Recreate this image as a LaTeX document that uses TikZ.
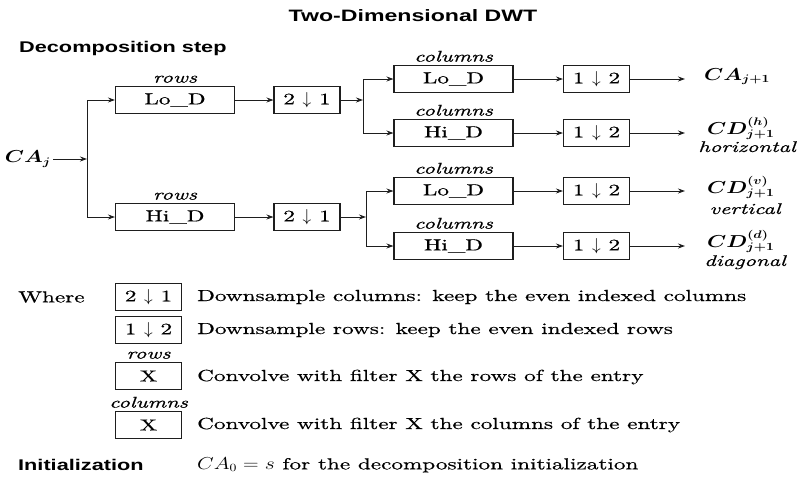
\documentclass[tikz,border=0pt]{standalone}
\usepackage{fontspec}
\setmainfont{lmroman10}[Extension=.otf, UprightFont=*-regular,
  ItalicFont=*-italic, BoldFont=*-bold, BoldItalicFont=*-bolditalic,
  FakeStretch=1.45, FakeBold=0.6]
\setsansfont{Liberation Sans}[FakeStretch=1.4]
\usepackage{graphicx}
\usepackage{tikz}
\usetikzlibrary{arrows.meta, positioning}
\definecolor{Ink}{HTML}{1E1E1E}
\newcommand{\wmath}[1]{\scalebox{1.25}[1]{$#1$}}

\begin{document}
\begin{tikzpicture}[x=1pt, y=-1pt, font=\fontsize{16}{19}\selectfont,
    fbox/.style={draw=Ink, line width=1.1pt, minimum width=119pt,
                 minimum height=27pt, inner sep=0pt},
    dsbox/.style={fbox, minimum width=66pt},
    lab/.style={font=\fontsize{15.5}{18}\selectfont\itshape, inner sep=0pt},
    txt/.style={anchor=west, inner sep=0pt},
    head/.style={font=\sffamily\bfseries\fontsize{15.5}{18}\selectfont},
    outlbl/.style={anchor=base west, inner sep=0pt,
                   font=\fontsize{16}{19}\selectfont\boldmath},
    word/.style={anchor=base, inner sep=0pt,
                 font=\fontsize{15.5}{18}\selectfont\itshape},
    arr/.style={draw=Ink, line width=0.9pt, -{Stealth[length=7pt, width=5pt]}},
    label distance=3pt]
  \useasboundingbox (0,0) rectangle (801,479);

  % Titles
  \node[font=\sffamily\bfseries\fontsize{16.5}{20}\selectfont] (title) at (413,16) {Two-Dimensional DWT};
  \node[head, txt] (dstep) at (19,48) {Decomposition step};

  % Input and row filters
  \node[anchor=east, inner sep=2pt, font=\fontsize{16}{19}\selectfont\boldmath]
        (caj) at (53,159) {\wmath{CA_j}};
  \coordinate (b1) at (87,159);
  \node[fbox, label={[lab]above:rows}] (lor) at (175,100) {Lo\_D};
  \node[fbox, label={[lab]above:rows}] (hir) at (175,217) {Hi\_D};
  \node[dsbox] (dr1) at (307,100) {2 $\downarrow$ 1};
  \node[dsbox] (dr2) at (307,217) {2 $\downarrow$ 1};

  % Column filters
  \coordinate (b2) at (363,100);
  \coordinate (b3) at (366,217);
  \node[fbox, label={[lab]above:columns}] (lc1) at (453.5,79) {Lo\_D};
  \node[fbox, label={[lab]above:columns}] (hc1) at (453.5,133) {Hi\_D};
  \node[fbox, label={[lab]above:columns}] (lc2) at (453.5,191) {Lo\_D};
  \node[fbox, label={[lab]above:columns}] (hc2) at (453.5,246) {Hi\_D};
  \node[dsbox] (dlc1) at (596.5,79) {1 $\downarrow$ 2};
  \node[dsbox] (dhc1) at (596.5,133) {1 $\downarrow$ 2};
  \node[dsbox] (dlc2) at (596.5,191) {1 $\downarrow$ 2};
  \node[dsbox] (dhc2) at (596.5,246) {1 $\downarrow$ 2};
  \coordinate (olc1) at (685,79);
  \coordinate (ohc1) at (685,133);
  \coordinate (olc2) at (685,191);
  \coordinate (ohc2) at (685,246);

  % Outputs
  \node[outlbl] (ca1) at (704,80) {\wmath{CA_{j+1}}};
  \node[outlbl] (cdh) at (707,134) {\wmath{CD^{(h)}_{j+1}}};
  \node[word] (hor) at (747,152) {horizontal};
  \node[outlbl] (cdv) at (707,193) {\wmath{CD^{(v)}_{j+1}}};
  \node[word] (ver) at (745,214) {vertical};
  \node[outlbl] (cdd) at (707,247) {\wmath{CD^{(d)}_{j+1}}};
  \node[word] (dia) at (745,266) {diagonal};

  % Connectors
  \draw[arr] (caj.east) -- (b1);
  \draw[arr] (b1) |- (lor.west);
  \draw[arr] (b1) |- (hir.west);
  \draw[arr] (lor) -- (dr1);
  \draw[arr] (hir) -- (dr2);
  \draw[arr] (dr1) -- (b2);
  \draw[arr] (b2) |- (lc1.west);
  \draw[arr] (b2) |- (hc1.west);
  \draw[arr] (dr2) -- (b3);
  \draw[arr] (b3) |- (lc2.west);
  \draw[arr] (b3) |- (hc2.west);
  \foreach \nd in {lc1, hc1, lc2, hc2} {
    \draw[arr] (\nd) -- (d\nd);
    \draw[arr] (d\nd) -- (o\nd);
  }

  % Legend
  \node[txt] (where) at (18,297) {Where};
  \node[dsbox] (k1) at (148.5,297) {2 $\downarrow$ 1};
  \node[dsbox] (k2) at (148.5,330) {1 $\downarrow$ 2};
  \node[dsbox, label={[lab]above:rows}] (k3) at (148.5,376) {X};
  \node[dsbox, label={[lab]above:columns}] (k4) at (148.5,425) {X};
  \node[txt] (t1) at (197,297) {Downsample columns: keep the even indexed columns};
  \node[txt] (t2) at (197,330) {Downsample rows: keep the even indexed rows};
  \node[txt] (t3) at (197,377) {Convolve with filter X the rows of the entry};
  \node[txt] (t4) at (197,425) {Convolve with filter X the columns of the entry};

  % Initialization
  \node[head, txt] (init) at (18,465) {Initialization};
  \node[txt] (initd) at (197,465) {\wmath{CA_0 = s} for the decomposition initialization};
\end{tikzpicture}
\end{document}
